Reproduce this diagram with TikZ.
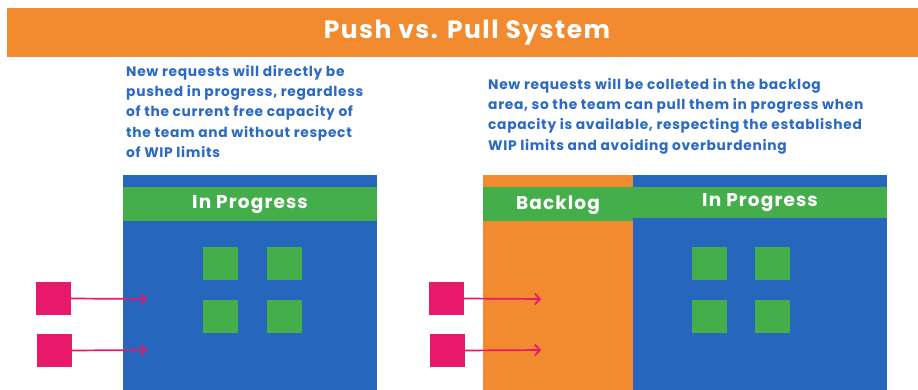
\documentclass[tikz,border=0pt]{standalone}
\usepackage{fontspec}
\setmainfont{Poppins}
\definecolor{porange}{HTML}{F28A30}
\definecolor{pblue}{HTML}{2666BD}
\definecolor{pgreen}{HTML}{43AE4A}
\definecolor{ppink}{HTML}{E8196B}
\definecolor{ptext}{HTML}{2A6AC4}
\usetikzlibrary{arrows.meta}
\tikzset{
  blk/.style={inner sep=0pt, outer sep=0pt, anchor=north west, draw=none},
  card/.style={blk, fill=pgreen, minimum width=35pt, minimum height=33pt},
  req/.style={blk, fill=ppink, minimum width=35pt, minimum height=33pt},
  head/.style={font=\bfseries\fontsize{18.5}{21}\selectfont\addfontfeatures{LetterSpace=6}, text=white},
  desc/.style={anchor=north west, inner sep=0pt, align=left, text=ptext, font=\bfseries\fontsize{13.8}{20.3}\selectfont\addfontfeatures{LetterSpace=5}},
  push/.style={draw=ppink, line width=1.7pt, -{Straight Barb[length=5pt,width=11pt,line width=1.7pt]}},
}
\begin{document}
\begin{tikzpicture}[x=1pt,y=-1pt]
\useasboundingbox[fill=white] (0,0) rectangle (918,390);
% banner
\node[blk, fill=porange, minimum width=911pt, minimum height=49pt] (banner) at (7,8) {};
\node[text=white, font=\bfseries\fontsize{25}{28}\selectfont\addfontfeatures{LetterSpace=6}] (title) at (467,33) {Push vs. Pull System};
% left description
\node[desc] (ldesc) at (126,65) {New requests will directly be\\pushed in progress, regardless\\of the current free capacity of\\the team and without respect\\of WIP limits};
% right description
\node[desc] (rdesc) at (488,78) {New requests will be colleted in the backlog\\area, so the team can pull them in progress when\\capacity is available, respecting the established\\WIP limits and avoiding overburdening};
% left board
\node[blk, fill=pblue, minimum width=254pt, minimum height=215pt] (lboard) at (123,175) {};
\node[blk, fill=pgreen, minimum width=254pt, minimum height=34pt] (lband) at (123,187) {};
\node[head] (lhead) at (250,205) {In Progress};
\node[card] (lc1) at (203,247) {};
\node[card] (lc2) at (267,247) {};
\node[card] (lc3) at (203,300) {};
\node[card] (lc4) at (267,300) {};
\node[req] (lr1) at (36,282) {};
\node[req] (lr2) at (37,334) {};
\coordinate (la1) at (147,299);
\coordinate (la2) at (147,350);
\draw[push] (lr1.east) -- (la1);
\draw[push] (lr2.east) -- (la2);
% right board
\node[blk, fill=porange, minimum width=150pt, minimum height=215pt] (backlog) at (483,175) {};
\node[blk, fill=pblue, minimum width=254pt, minimum height=215pt] (rboard) at (633,175) {};
\node[blk, fill=pgreen, minimum width=150pt, minimum height=34pt] (bband) at (483,187) {};
\node[blk, fill=pgreen, minimum width=254pt, minimum height=31pt] (rband) at (633,187) {};
\node[head] (bhead) at (558,205) {Backlog};
\node[head] (rhead) at (760,203) {In Progress};
\node[card] (rc1) at (692,247) {};
\node[card] (rc2) at (755,247) {};
\node[card] (rc3) at (692,300) {};
\node[card] (rc4) at (755,300) {};
\node[req] (rr1) at (429,282) {};
\node[req] (rr2) at (430,334) {};
\coordinate (ra1) at (541,299);
\coordinate (ra2) at (541,350);
\draw[push] (rr1.east) -- (ra1);
\draw[push] (rr2.east) -- (ra2);
\end{tikzpicture}
\end{document}
